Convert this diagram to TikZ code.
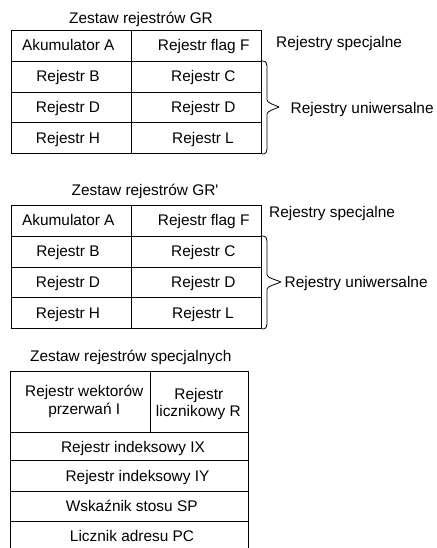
\documentclass[tikz,border=0pt]{standalone}
\usepackage{fontspec}
\setmainfont{Liberation Sans}
\begin{document}
\begin{tikzpicture}[x=1pt,y=-1pt,
  cell/.style={draw, line width=0.9pt, inner sep=0pt, outer sep=0pt, anchor=north west},
  lbl/.style={anchor=base, inner sep=0pt, font=\fontsize{15.4}{17}\selectfont},
  side/.style={anchor=base west, inner sep=0pt, font=\fontsize{15.4}{17}\selectfont},
  bracepath/.style={draw, line width=0.8pt, line join=round}]
\useasboundingbox (0,0) rectangle (436,548);

% ---------- Table GR ----------
\node[lbl] (t1) at (141,23.5) {Zestaw rejestrów GR};
\node[cell, minimum width=120.7pt, minimum height=30.6pt] (a1) at (11,30.7) {};
\node[cell, minimum width=129.3pt, minimum height=30.6pt] (f1) at (131.7,30.7) {};
\node[cell, minimum width=120.7pt, minimum height=30.7pt] (b1) at (11,61.3) {};
\node[cell, minimum width=129.3pt, minimum height=30.7pt] (c1) at (131.7,61.3) {};
\node[cell, minimum width=120.7pt, minimum height=30.7pt] (d1) at (11,92) {};
\node[cell, minimum width=129.3pt, minimum height=30.7pt] (e1) at (131.7,92) {};
\node[cell, minimum width=120.7pt, minimum height=30.6pt] (h1) at (11,122.7) {};
\node[cell, minimum width=129.3pt, minimum height=30.6pt] (l1) at (131.7,122.7) {};
\node[lbl] (ta1) at (68.3,51) {Akumulator A};
\node[lbl] (tf1) at (203.7,51) {Rejestr flag F};
\node[lbl] (tb1) at (68,81.8) {Rejestr B};
\node[lbl] (tc1) at (203.3,81.8) {Rejestr C};
\node[lbl] (td1) at (68,112.5) {Rejestr D};
\node[lbl] (te1) at (203.3,112.5) {Rejestr D};
\node[lbl] (th1) at (68,143.2) {Rejestr H};
\node[lbl] (tl1) at (203,143.2) {Rejestr L};
\node[side] (s1) at (276,47.7) {Rejestry specjalne};
\node[side] (u1) at (290.5,113.3) {Rejestry uniwersalne};
\coordinate (bt1) at (262,61);
\coordinate (bb1) at (262,154);
\coordinate (bp1) at (279,107);
\path[bracepath] (bt1) .. controls (266,61) and (267,63) .. (267,66) -- (267,100)
  .. controls (267,103) and (275,105) .. (bp1)
  .. controls (275,109) and (267,111) .. (267,114) -- (267,149)
  .. controls (267,152) and (266,154) .. (bb1);

% ---------- Table GR' ----------
\node[lbl] (t2) at (145,195) {Zestaw rejestrów GR\textquotesingle};
\node[cell, minimum width=120.7pt, minimum height=31.3pt] (a2) at (11,205) {};
\node[cell, minimum width=129.3pt, minimum height=31.3pt] (f2) at (131.7,205) {};
\node[cell, minimum width=120.7pt, minimum height=30.7pt] (b2) at (11,236.3) {};
\node[cell, minimum width=129.3pt, minimum height=30.7pt] (c2) at (131.7,236.3) {};
\node[cell, minimum width=120.7pt, minimum height=30.7pt] (d2) at (11,267) {};
\node[cell, minimum width=129.3pt, minimum height=30.7pt] (e2) at (131.7,267) {};
\node[cell, minimum width=120.7pt, minimum height=30.6pt] (h2) at (11,297.7) {};
\node[cell, minimum width=129.3pt, minimum height=30.6pt] (l2) at (131.7,297.7) {};
\node[lbl] (ta2) at (68.3,225.5) {Akumulator A};
\node[lbl] (tf2) at (203.7,225.5) {Rejestr flag F};
\node[lbl] (tb2) at (68,256.8) {Rejestr B};
\node[lbl] (tc2) at (203.3,256.8) {Rejestr C};
\node[lbl] (td2) at (68,287.5) {Rejestr D};
\node[lbl] (te2) at (203.3,287.5) {Rejestr D};
\node[lbl] (th2) at (68,318.2) {Rejestr H};
\node[lbl] (tl2) at (203,318.2) {Rejestr L};
\node[side] (s2) at (269,217.7) {Rejestry specjalne};
\node[side] (u2) at (284.5,287.7) {Rejestry uniwersalne};
\coordinate (bt2) at (262,236);
\coordinate (bb2) at (262,329);
\coordinate (bp2) at (281,282);
\path[bracepath] (bt2) .. controls (266,236) and (267,238) .. (267,241) -- (267,275)
  .. controls (267,278) and (277,280) .. (bp2)
  .. controls (277,284) and (267,286) .. (267,289) -- (267,324)
  .. controls (267,327) and (266,329) .. (bb2);

% ---------- Special registers ----------
\node[lbl] (t3) at (130.8,361.7) {Zestaw rejestrów specjalnych};
\node[cell, minimum width=140pt, minimum height=61.7pt] (ci) at (10,371) {};
\node[cell, minimum width=98pt, minimum height=61.7pt] (cr) at (150,371) {};
\node[cell, minimum width=238pt, minimum height=28pt] (cix) at (10,432.7) {};
\node[cell, minimum width=238pt, minimum height=30.3pt] (ciy) at (10,460.7) {};
\node[cell, minimum width=238pt, minimum height=30.7pt] (csp) at (10,491) {};
\node[cell, minimum width=238pt, minimum height=31pt] (cpc) at (10,521.7) {};
\node[lbl] (ti1) at (84.2,396.7) {Rejestr wektorów};
\node[lbl] (ti2) at (84.2,414.3) {przerwań I};
\node[lbl] (tr1) at (198.8,399.8) {Rejestr};
\node[lbl] (tr2) at (198.3,416.5) {licznikowy R};
\node[lbl] (tix) at (133,452) {Rejestr indeksowy IX};
\node[lbl] (tiy) at (137.5,481) {Rejestr indeksowy IY};
\node[lbl] (tsp) at (131.7,511.7) {Wskaźnik stosu SP};
\node[lbl] (tpc) at (132,541.7) {Licznik adresu PC};
\end{tikzpicture}
\end{document}
